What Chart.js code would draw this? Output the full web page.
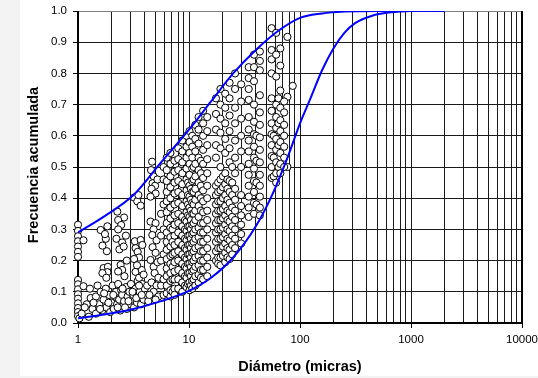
<!DOCTYPE html>
<html>
<head>
<meta charset="utf-8">
<script src="https://cdn.jsdelivr.net/npm/chart.js@4.4.0/dist/chart.umd.min.js"></script>
<style>
    html, body { margin: 0; padding: 0; background: #f3f3f3; }
    #grafico { display: block; }
</style>
</head>
<body>
<canvas id="grafico" width="538" height="378"></canvas>
<script>
// Curvas envolventes (azules)
var curvaSuperiorX = [1, 1.78, 3.16, 5.6, 10, 15.8, 25, 40, 63, 100, 158, 251, 500, 2000];
var curvaSuperiorY = [0.29, 0.345, 0.41, 0.515, 0.62, 0.71, 0.80, 0.875, 0.935, 0.978, 0.992, 0.998, 1.0, 1.0];
var curvaInferiorX = [1, 1.78, 3.16, 5.6, 10, 15.8, 25, 40, 56, 79, 100, 126, 158, 200, 251, 316, 447, 631, 1000, 2000];
var curvaInferiorY = [0.015, 0.028, 0.045, 0.07, 0.103, 0.145, 0.21, 0.31, 0.41, 0.54, 0.64, 0.725, 0.81, 0.88, 0.93, 0.962, 0.985, 0.995, 1.0, 1.0];

// Puntos sueltos (diametro, frecuencia)
var puntosSueltos = [
    [1, 0.315], [1, 0.295], [1, 0.278], [1, 0.262], [1, 0.245], [1, 0.228], [1, 0.212], [1.12, 0.265],
    [1, 0.138], [1, 0.124], [1, 0.108], [1, 0.092], [1, 0.078], [1, 0.063], [1, 0.048], [1, 0.035],
    [1, 0.022], [1.03, 0.015], [1.12, 0.118], [1.08, 0.03],
    [1.2, 0.06], [1.25, 0.02], [1.3, 0.08], [1.35, 0.045], [1.45, 0.085], [1.45, 0.03], [1.55, 0.06],
    [1.6, 0.1], [1.65, 0.04], [1.7, 0.075], [1.78, 0.11], [1.8, 0.05], [1.9, 0.09], [1.95, 0.035],
    [2.0, 0.065], [2.05, 0.12], [2.1, 0.045], [2.15, 0.085], [2.2, 0.1], [2.25, 0.06], [2.3, 0.125],
    [2.35, 0.075], [2.4, 0.04], [2.45, 0.105], [2.5, 0.09], [2.55, 0.055], [2.6, 0.07], [2.7, 0.115],
    [2.75, 0.045], [2.8, 0.085], [2.9, 0.1], [2.95, 0.06], [3.0, 0.125], [3.05, 0.075], [3.15, 0.09],
    [3.2, 0.05], [3.3, 0.11], [3.4, 0.065], [3.45, 0.135], [3.5, 0.085], [3.6, 0.1], [3.7, 0.06],
    [3.8, 0.125], [3.9, 0.075], [4.0, 0.11], [4.1, 0.09],
    [1.15, 0.05], [1.28, 0.11], [1.38, 0.065], [1.5, 0.12], [1.58, 0.045], [1.72, 0.095], [1.88, 0.065],
    [2.08, 0.09], [2.28, 0.05], [2.52, 0.11], [2.65, 0.05], [2.85, 0.07], [3.1, 0.1], [3.35, 0.08],
    [3.55, 0.12], [3.75, 0.09], [4.2, 0.12], [4.3, 0.07],
    [1.6, 0.298], [1.84, 0.31], [1.78, 0.27], [1.66, 0.248], [1.75, 0.285], [1.82, 0.23], [1.7, 0.176],
    [1.86, 0.18], [1.84, 0.163], [1.66, 0.16], [1.8, 0.145],
    [2.26, 0.357], [2.6, 0.338], [2.3, 0.33], [2.45, 0.314], [2.3, 0.3], [2.22, 0.27], [2.5, 0.258],
    [2.36, 0.236], [2.58, 0.245], [2.7, 0.28], [2.42, 0.186], [2.5, 0.17], [2.62, 0.15], [2.3, 0.165],
    [2.75, 0.2],
    [3.2, 0.402], [3.42, 0.39], [3.67, 0.376], [3.5, 0.41], [3.3, 0.24], [3.45, 0.228], [3.25, 0.262],
    [3.67, 0.266], [3.8, 0.25], [3.55, 0.21], [3.2, 0.205], [3.3, 0.164], [3.55, 0.145], [3.75, 0.17],
    [3.9, 0.155], [3.4, 0.185],
    [4.65, 0.517], [4.55, 0.49], [4.8, 0.47], [4.7, 0.448], [4.95, 0.44], [4.6, 0.43], [5.0, 0.415],
    [4.5, 0.405], [5.2, 0.46], [4.5, 0.325], [5.0, 0.32], [4.8, 0.3], [4.67, 0.282], [5.1, 0.265],
    [4.7, 0.243], [5.0, 0.225], [4.5, 0.202], [4.8, 0.18], [5.2, 0.195], [4.9, 0.16], [5.3, 0.145],
    [4.6, 0.13], [5.1, 0.12], [4.8, 0.1], [5.3, 0.085], [4.4, 0.09], [5.0, 0.075],
    [77, 0.917], [77, 0.725], [77, 0.5], [86, 0.76]
];

// Columnas densas: diametro de cada columna y sus frecuencias
var xColumnas = [5.6, 5.9, 6.3, 6.8, 7.1, 7.4, 8.0, 8.7, 9.2, 9.5, 9.8, 10.1, 10.4, 10.7, 11.0, 11.4,
    12.2, 12.8, 13.4, 14.6, 17.5, 18.3, 19.2, 20.2, 21.2, 22.2, 23.2, 24.5, 26, 29.5,
    34.5, 38.5, 40.5, 43.5, 55.5, 58, 61, 64, 66.5, 72];
var yColumnas = [
    [0.35, 0.28, 0.2, 0.12],
    [0.50, 0.46, 0.38, 0.30, 0.22, 0.14, 0.09],
    [0.53, 0.49, 0.455, 0.42, 0.39, 0.355, 0.32, 0.29, 0.26, 0.235, 0.205, 0.175, 0.15, 0.12, 0.095],
    [0.545, 0.51, 0.47, 0.435, 0.40, 0.37, 0.335, 0.305, 0.275, 0.245, 0.215, 0.19, 0.16, 0.135, 0.105, 0.085],
    [0.3, 0.26, 0.22, 0.18, 0.14, 0.1],
    [0.52, 0.485, 0.45, 0.415, 0.38, 0.345, 0.315, 0.28, 0.25, 0.225, 0.195, 0.165, 0.14, 0.11, 0.09],
    [0.56, 0.525, 0.49, 0.455, 0.42, 0.385, 0.35, 0.32, 0.29, 0.26, 0.23, 0.2, 0.17, 0.14, 0.11],
    [0.585, 0.55, 0.515, 0.48, 0.445, 0.41, 0.375, 0.34, 0.31, 0.28, 0.25, 0.22, 0.19, 0.16, 0.13, 0.1],
    [0.33, 0.3, 0.27, 0.24, 0.21, 0.18, 0.15, 0.12],
    [0.6, 0.565, 0.53, 0.495, 0.46, 0.425, 0.39, 0.355, 0.325, 0.295, 0.265, 0.235, 0.205, 0.175, 0.145, 0.115],
    [0.45, 0.41, 0.38, 0.345, 0.31, 0.28, 0.25, 0.22, 0.19, 0.16, 0.125],
    [0.615, 0.58, 0.545, 0.51, 0.475, 0.44, 0.405, 0.37, 0.34, 0.31, 0.28, 0.25, 0.22, 0.19, 0.16, 0.13, 0.105],
    [0.43, 0.395, 0.36, 0.33, 0.3, 0.27, 0.24, 0.21, 0.18, 0.15, 0.12],
    [0.6, 0.565, 0.53, 0.495, 0.455, 0.42, 0.385, 0.35, 0.315, 0.285, 0.255, 0.225, 0.195, 0.165, 0.135, 0.11],
    [0.5, 0.46, 0.42, 0.38, 0.35, 0.32, 0.29, 0.26, 0.23, 0.2, 0.17, 0.14],
    [0.635, 0.59, 0.55, 0.51, 0.47, 0.43, 0.395, 0.36, 0.33, 0.3, 0.27, 0.24, 0.21, 0.18, 0.15, 0.12],
    [0.66, 0.62, 0.575, 0.53, 0.49, 0.45, 0.41, 0.375, 0.34, 0.305, 0.275, 0.245, 0.215, 0.185, 0.155, 0.13],
    [0.52, 0.48, 0.44, 0.4, 0.36, 0.32, 0.29, 0.26, 0.23, 0.2, 0.17, 0.145],
    [0.68, 0.64, 0.6, 0.555, 0.51, 0.465, 0.425, 0.39, 0.355, 0.32, 0.29, 0.26, 0.23, 0.2, 0.17, 0.14],
    [0.66, 0.615, 0.57, 0.525, 0.48, 0.44, 0.4, 0.36, 0.33, 0.3, 0.27, 0.24, 0.21, 0.18, 0.15],
    [0.72, 0.67, 0.62, 0.57, 0.53, 0.44, 0.41, 0.38, 0.35, 0.32, 0.29, 0.26, 0.23, 0.2],
    [0.45, 0.42, 0.39, 0.36, 0.33, 0.3, 0.27, 0.24, 0.21, 0.19],
    [0.75, 0.7, 0.655, 0.61, 0.56, 0.5, 0.46, 0.425, 0.39, 0.36, 0.33, 0.3, 0.27, 0.24, 0.21, 0.185],
    [0.47, 0.435, 0.4, 0.365, 0.335, 0.305, 0.275, 0.245, 0.215],
    [0.735, 0.69, 0.64, 0.59, 0.545, 0.48, 0.445, 0.41, 0.375, 0.345, 0.315, 0.285, 0.255, 0.225, 0.195],
    [0.46, 0.43, 0.395, 0.36, 0.33, 0.3, 0.27, 0.24, 0.21],
    [0.77, 0.72, 0.665, 0.615, 0.56, 0.515, 0.455, 0.42, 0.385, 0.355, 0.325, 0.295, 0.265, 0.235, 0.205],
    [0.5, 0.45, 0.41, 0.37, 0.34, 0.31, 0.28, 0.25, 0.22],
    [0.8, 0.75, 0.69, 0.64, 0.585, 0.53, 0.48, 0.43, 0.395, 0.36, 0.33, 0.3, 0.27, 0.24],
    [0.765, 0.71, 0.655, 0.6, 0.55, 0.5, 0.41, 0.375, 0.345, 0.315, 0.285, 0.255],
    [0.82, 0.785, 0.75, 0.715, 0.66, 0.62, 0.585, 0.55, 0.51, 0.475, 0.44, 0.405, 0.37, 0.34],
    [0.86, 0.82, 0.775, 0.7, 0.645, 0.605, 0.565, 0.53, 0.495, 0.455, 0.42, 0.385, 0.35],
    [0.6, 0.52, 0.45, 0.38],
    [0.87, 0.84, 0.81, 0.73, 0.675, 0.635, 0.595, 0.555, 0.515, 0.475, 0.44, 0.405, 0.37, 0.345],
    [0.945, 0.875, 0.845, 0.8, 0.72, 0.68, 0.64, 0.605, 0.57, 0.535, 0.5, 0.465],
    [0.6, 0.53, 0.47],
    [0.93, 0.86, 0.79, 0.7, 0.66, 0.625, 0.59, 0.555, 0.515, 0.48, 0.45],
    [0.72, 0.64, 0.57, 0.5],
    [0.88, 0.825, 0.745, 0.69, 0.65, 0.615, 0.58, 0.545, 0.51, 0.48],
    [0.71, 0.675, 0.635, 0.6, 0.565, 0.53, 0.5]
];

// Ejes
var decadas = [1, 10, 100, 1000, 10000];
var etiquetasX = ['1', '10', '100', '1000', '10000'];
var tituloX = 'Diámetro (micras)';
var tituloY = 'Frecuencia acumulada';

// lineas de rejilla verticales: 1..9 por cada decada
var lineasX = [];
decadas.forEach(function(d, i) {
    if (i === decadas.length - 1) { lineasX.push(d); return; }
    for (var k = 1; k <= 9; k++) lineasX.push(d * k);
});

function esDecada(v) {
    return decadas.indexOf(v) >= 0;
}

var puntos = puntosSueltos.map(function(p) { return { x: p[0], y: p[1] }; });
xColumnas.forEach(function(x, i) {
    yColumnas[i].forEach(function(y) { puntos.push({ x: x, y: y }); });
});

function serie(xs, ys) {
    return xs.map(function(x, i) { return { x: x, y: ys[i] }; });
}

var fuente = '"Liberation Sans", Arial, sans-serif';

var marco = {
    id: 'marco',
    beforeDraw: function(chart) {
        var c = chart.ctx;
        c.save();
        c.fillStyle = '#f3f3f3';
        c.fillRect(0, 0, chart.width, chart.height);
        c.fillStyle = '#ffffff';
        c.fillRect(20, 0, chart.width - 20, chart.height - 2);
        c.restore();
    },
    beforeDatasetsDraw: function(chart) {
        var a = chart.chartArea, c = chart.ctx;
        c.save();
        c.strokeStyle = '#808080';
        c.lineWidth = 1;
        c.beginPath();
        c.moveTo(a.left, a.top + 0.5);
        c.lineTo(a.right, a.top + 0.5);
        c.stroke();
        c.strokeStyle = '#000';
        c.lineWidth = 2;
        c.beginPath();
        c.moveTo(a.left, a.top);
        c.lineTo(a.left, a.bottom);
        c.lineTo(a.right, a.bottom);
        c.lineTo(a.right, a.top);
        c.stroke();
        c.restore();
    },
    afterDraw: function(chart) {
        var c = chart.ctx;
        c.save();
        c.fillStyle = '#000';
        c.font = 'bold 14.5px ' + fuente;
        c.textAlign = 'center';
        c.textBaseline = 'middle';
        c.fillText(tituloX, 300, 367);
        c.translate(34, 165);
        c.rotate(-Math.PI / 2);
        c.fillText(tituloY, 0, 0);
        c.restore();
    }
};

new Chart(document.getElementById('grafico'), {
    type: 'scatter',
    data: {
        datasets: [{
            data: serie(curvaSuperiorX, curvaSuperiorY),
            showLine: true,
            borderColor: '#0000ff',
            borderWidth: 2,
            pointRadius: 0,
            cubicInterpolationMode: 'monotone',
            fill: false
        }, {
            data: serie(curvaInferiorX, curvaInferiorY),
            showLine: true,
            borderColor: '#0000ff',
            borderWidth: 2,
            pointRadius: 0,
            cubicInterpolationMode: 'monotone',
            fill: false
        }, {
            data: puntos,
            showLine: false,
            pointRadius: 3.6,
            pointBorderWidth: 1,
            pointBorderColor: '#000',
            pointBackgroundColor: '#fff',
            clip: false
        }]
    },
    options: {
        responsive: false,
        animation: false,
        events: [],
        layout: { padding: { left: 0, top: 11, right: 16, bottom: 0 } },
        plugins: { legend: { display: false }, tooltip: { enabled: false } },
        scales: {
            x: {
                type: 'logarithmic',
                min: 1,
                max: 10000,
                border: { display: false },
                grid: {
                    color: '#1a1a1a',
                    lineWidth: 1,
                    drawTicks: true,
                    tickLength: 5,
                    tickColor: function(ctx) {
                        return ctx.tick && esDecada(ctx.tick.value) ? '#000' : 'rgba(0,0,0,0)';
                    }
                },
                afterBuildTicks: function(s) {
                    s.ticks = lineasX.map(function(v) { return { value: v }; });
                },
                ticks: {
                    autoSkip: false,
                    maxRotation: 0,
                    padding: 5,
                    color: '#000',
                    font: { family: fuente, size: 11.5 },
                    callback: function(v) {
                        var i = decadas.indexOf(v);
                        return i >= 0 ? etiquetasX[i] : '';
                    }
                },
                afterFit: function(s) {
                    s.height = 55;
                    s.paddingLeft = 0;
                    s.paddingRight = 0;
                }
            },
            y: {
                min: 0,
                max: 1,
                border: { display: false },
                grid: {
                    color: '#1a1a1a',
                    lineWidth: 1,
                    drawTicks: true,
                    tickLength: 5,
                    tickColor: '#000'
                },
                ticks: {
                    stepSize: 0.1,
                    padding: 6,
                    color: '#000',
                    font: { family: fuente, size: 11.5 },
                    callback: function(v) { return v.toFixed(1); }
                },
                afterFit: function(s) {
                    s.width = 78;
                    s.paddingTop = 0;
                    s.paddingBottom = 0;
                }
            }
        }
    },
    plugins: [marco]
});
</script>
</body>
</html>
